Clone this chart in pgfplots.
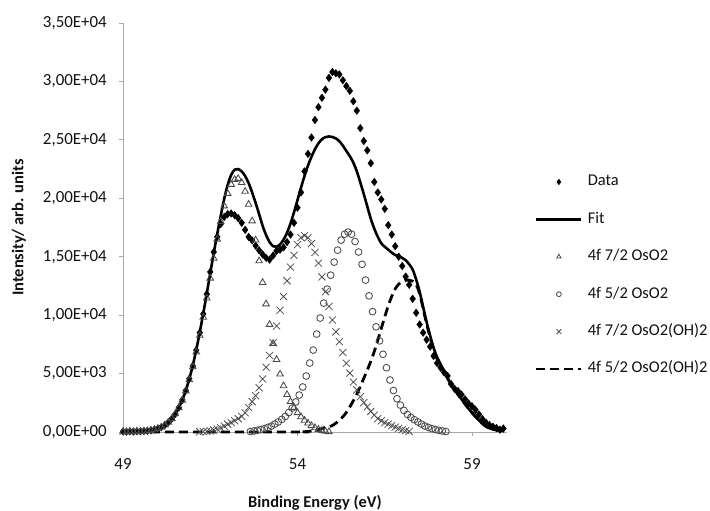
\documentclass[border=0pt]{standalone}
\usepackage{fontspec}
\setmainfont{Carlito}
\usepackage{pgfplots}
\pgfplotsset{compat=1.18}
\definecolor{axgray}{HTML}{A8A8A8}
\definecolor{mkgray}{HTML}{4A4A4A}
\definecolor{txt}{HTML}{111111}
\pgfplotsset{
  markleg/.style={legend image code/.code={\path (0bp,0bp) (45bp,0bp); \draw[##1, mark size=#1] plot coordinates {(22.5bp,0bp)};}},
  lineleg/.style={legend image code/.code={\draw[##1] (0bp,0bp) -- (45bp,0bp);}},
}
\begin{document}
\begin{tikzpicture}
\useasboundingbox (-123bp,-79bp) rectangle (587bp,432bp);
\begin{axis}[
  at={(0,0)}, anchor=south west,
  scale only axis, width=383.9bp, height=409bp,
  xmin=49, xmax=60, ymin=0, ymax=35000,
  clip=false,
  axis lines=left, axis line style={-, draw=axgray, line width=0.9bp},
  tick align=outside, major tick length=4bp, tick style={draw=axgray, line width=0.9bp},
  xtick={49,54,59}, xticklabels={49,54,59},
  ytick={0,5000,10000,15000,20000,25000,30000,35000},
  yticklabels={{0,00E+00},{5,00E+03},{1,00E+04},{1,50E+04},{2,00E+04},{2,50E+04},{3,00E+04},{3,50E+04}},
  scaled y ticks=false,
  ticklabel style={font=\fontsize{17}{20}\selectfont, text=txt},
  yticklabel style={anchor=east, inner sep=0pt, xshift=-12bp},
  xticklabel style={anchor=north, inner sep=0pt, yshift=-22bp},
  xlabel={\textbf{Binding Energy (eV)}},
  ylabel={\textbf{Intensity/ arb. units}},
  every axis x label/.style={at={(axis description cs:0.5,-0.1736)}, anchor=center, font=\fontsize{16.5}{19}\selectfont, text=txt},
  every axis y label/.style={at={(axis description cs:-0.271,0.5)}, anchor=center, rotate=90, font=\fontsize{16.5}{19}\selectfont, text=txt},
  legend cell align=left,
  legend style={at={(rel axis cs:1.0732,0.6284)}, anchor=north west, draw=none, fill=none,
    inner sep=0pt, outer sep=0pt, row sep=23.4bp, column sep=5bp,
    font=\fontsize{16.5}{19}\selectfont, text=txt,
    nodes={inner sep=0pt, text height=11bp, text depth=3bp}},
]
% Data
\addplot[only marks, mark=diamond*, mark size=3.8bp, black, markleg=2.8bp]
table[row sep=\\] {
49.0 50\\ 49.1 30\\ 49.2 60\\ 49.3 40\\ 49.4 70\\ 49.5 60\\ 49.6 90\\ 49.7 110\\ 49.8 150\\ 49.9 220\\
50.0 300\\ 50.1 420\\ 50.2 600\\ 50.3 830\\ 50.4 1150\\ 50.5 1550\\ 50.6 2100\\ 50.7 2750\\ 50.8 3550\\ 50.9 4550\\
51.0 5650\\ 51.1 7000\\ 51.2 8500\\ 51.3 10100\\ 51.4 11800\\ 51.5 13700\\ 51.6 15400\\ 51.7 16700\\ 51.8 17800\\ 51.9 18400\\
52.0 18650\\ 52.1 18700\\ 52.2 18550\\ 52.3 18300\\ 52.4 17900\\ 52.5 17300\\ 52.6 16700\\ 52.7 16400\\ 52.8 15950\\ 52.9 15550\\
53.0 15200\\ 53.1 14900\\ 53.2 14750\\ 53.3 15100\\ 53.4 15500\\ 53.5 15600\\ 53.6 15800\\ 53.7 16250\\ 53.8 16900\\ 53.9 17900\\
54.0 19200\\ 54.1 20500\\ 54.2 22300\\ 54.3 23800\\ 54.4 25200\\ 54.5 26700\\ 54.6 27800\\ 54.7 28600\\ 54.8 29300\\ 54.9 30300\\
55.0 30800\\ 55.1 30700\\ 55.2 30600\\ 55.3 30100\\ 55.4 29600\\ 55.5 29200\\ 55.6 28300\\ 55.7 27500\\ 55.8 26000\\ 55.9 24900\\
56.0 24100\\ 56.1 23000\\ 56.2 21400\\ 56.3 20500\\ 56.4 19900\\ 56.5 19100\\ 56.6 17700\\ 56.7 16900\\ 56.8 15900\\ 56.9 15000\\
57.0 14200\\ 57.1 13300\\ 57.2 12600\\ 57.3 11400\\ 57.4 10200\\ 57.5 9200\\ 57.6 8500\\ 57.7 7900\\ 57.8 7300\\ 57.9 6500\\
58.0 5900\\ 58.1 5500\\ 58.2 5100\\ 58.3 4800\\ 58.4 4100\\ 58.5 3700\\ 58.6 3500\\ 58.7 3200\\ 58.8 2800\\ 58.9 2450\\
59.0 2200\\ 59.1 1900\\ 59.2 1500\\ 59.3 1100\\ 59.4 800\\ 59.5 600\\ 59.6 450\\ 59.7 350\\ 59.8 200\\ 59.9 300\\
};
\addlegendentry{Data}
% Fit
\addplot[black, line width=2.6bp, smooth, lineleg]
table[row sep=\\] {
49.0 0\\ 49.1 5\\ 49.2 8\\ 49.3 13\\ 49.4 21\\ 49.5 34\\ 49.6 53\\ 49.7 83\\ 49.8 127\\ 49.9 190\\
50.0 283\\ 50.1 410\\ 50.2 590\\ 50.3 830\\ 50.4 1140\\ 50.5 1560\\ 50.6 2090\\ 50.7 2750\\ 50.8 3560\\ 50.9 4550\\
51.0 5700\\ 51.1 7050\\ 51.2 8550\\ 51.3 10150\\ 51.4 11850\\ 51.5 13600\\ 51.6 15300\\ 51.7 16950\\ 51.8 18500\\ 51.9 19950\\
52.0 21150\\ 52.1 22000\\ 52.2 22450\\ 52.3 22500\\ 52.4 22300\\ 52.5 21900\\ 52.6 21300\\ 52.7 20500\\ 52.8 19600\\ 52.9 18650\\
53.0 17650\\ 53.1 16850\\ 53.2 16250\\ 53.3 15900\\ 53.4 15850\\ 53.5 16050\\ 53.6 16450\\ 53.7 17050\\ 53.8 17850\\ 53.9 18800\\
54.0 19850\\ 54.1 20900\\ 54.2 21900\\ 54.3 22800\\ 54.4 23550\\ 54.5 24200\\ 54.6 24700\\ 54.7 25050\\ 54.8 25230\\ 54.9 25290\\
55.0 25250\\ 55.1 25120\\ 55.2 24880\\ 55.3 24500\\ 55.4 24050\\ 55.5 23600\\ 55.6 23050\\ 55.7 22300\\ 55.8 21350\\ 55.9 20350\\
56.0 19300\\ 56.1 18250\\ 56.2 17400\\ 56.3 16700\\ 56.4 16150\\ 56.5 15850\\ 56.6 15600\\ 56.7 15350\\ 56.8 15150\\ 56.9 15050\\
57.0 14900\\ 57.1 14700\\ 57.2 14350\\ 57.3 13900\\ 57.4 13050\\ 57.5 12000\\ 57.6 10700\\ 57.7 9400\\ 57.8 8250\\ 57.9 7200\\
58.0 6400\\ 58.1 5800\\ 58.2 5200\\ 58.3 4600\\ 58.4 4100\\ 58.5 3650\\ 58.6 3200\\ 58.7 2800\\ 58.8 2400\\ 58.9 2000\\
59.0 1650\\ 59.1 1320\\ 59.2 1000\\ 59.3 720\\ 59.4 480\\ 59.5 320\\ 59.6 230\\ 59.7 170\\ 59.8 120\\ 59.9 80\\
};
\addlegendentry{Fit}
% 4f 7/2 OsO2
\addplot[only marks, mark=triangle, mark size=3.8bp, mkgray, mark options={line width=0.85bp}, markleg=2.5bp]
table[row sep=\\] {
49.0 3\\ 49.1 5\\ 49.2 8\\ 49.3 13\\ 49.4 21\\ 49.5 34\\ 49.6 53\\ 49.7 83\\ 49.8 127\\ 49.9 190\\
50.0 283\\ 50.1 410\\ 50.2 587\\ 50.3 825\\ 50.4 1137\\ 50.5 1548\\ 50.6 2068\\ 50.7 2713\\ 50.8 3510\\ 50.9 4458\\
51.0 5570\\ 51.1 6843\\ 51.2 8265\\ 51.3 9817\\ 51.4 11460\\ 51.5 13160\\ 51.6 14860\\ 51.7 16500\\ 51.8 18010\\ 51.9 19340\\
52.0 20410\\ 52.1 21180\\ 52.2 21610\\ 52.3 21680\\ 52.4 21340\\ 52.5 20590\\ 52.6 19480\\ 52.7 18060\\ 52.8 16420\\ 52.9 14640\\
53.0 12790\\ 53.1 10960\\ 53.2 9200\\ 53.3 7575\\ 53.4 6200\\ 53.5 4950\\ 53.6 3950\\ 53.7 3200\\ 53.8 2600\\ 53.9 2100\\
54.0 1650\\ 54.1 1300\\ 54.2 1000\\ 54.3 760\\ 54.4 540\\ 54.5 360\\ 54.6 220\\ 54.7 120\\ 54.8 55\\ 54.9 20\\
};
\addlegendentry{4f 7/2 OsO2}
% 4f 5/2 OsO2
\addplot[only marks, mark=o, mark size=3.4bp, mkgray, mark options={line width=0.85bp}, markleg=2.4bp]
table[row sep=\\] {
52.65 40\\ 52.75 90\\ 52.85 140\\ 52.95 210\\ 53.05 290\\ 53.15 390\\ 53.25 510\\ 53.35 680\\ 53.45 860\\ 53.55 1080\\
53.65 1330\\ 53.75 1660\\ 53.85 2050\\ 53.95 2570\\ 54.05 3160\\ 54.15 3850\\ 54.25 4790\\ 54.35 5900\\ 54.45 7010\\ 54.55 8380\\
54.65 9750\\ 54.75 11030\\ 54.85 12230\\ 54.95 13420\\ 55.05 14540\\ 55.15 15560\\ 55.25 16420\\ 55.35 16930\\ 55.45 17100\\ 55.55 16930\\
55.65 16300\\ 55.75 15400\\ 55.85 14350\\ 55.95 13000\\ 56.05 11650\\ 56.15 10300\\ 56.25 9000\\ 56.35 7800\\ 56.45 6650\\ 56.55 5500\\
56.65 4450\\ 56.75 3550\\ 56.85 2850\\ 56.95 2300\\ 57.05 1850\\ 57.15 1500\\ 57.25 1250\\ 57.35 1050\\ 57.45 860\\ 57.55 680\\
57.65 510\\ 57.75 390\\ 57.85 290\\ 57.95 210\\ 58.05 140\\ 58.15 90\\ 58.25 40\\
};
\addlegendentry{4f 5/2 OsO2}
% 4f 7/2 OsO2(OH)2
\addplot[only marks, mark=x, mark size=5bp, mkgray, mark options={line width=0.75bp}, markleg=3.4bp]
table[row sep=\\] {
51.2 20\\ 51.3 30\\ 51.4 50\\ 51.5 100\\ 51.6 170\\ 51.7 250\\ 51.8 350\\ 51.9 500\\ 52.0 670\\ 52.1 810\\
52.2 960\\ 52.3 1140\\ 52.4 1340\\ 52.5 1650\\ 52.6 2100\\ 52.7 2600\\ 52.8 3110\\ 52.9 3780\\ 53.0 4540\\ 53.1 5540\\
53.2 6550\\ 53.3 7640\\ 53.4 9070\\ 53.5 10420\\ 53.6 11590\\ 53.7 12940\\ 53.8 14110\\ 53.9 15120\\ 54.0 16040\\ 54.1 16630\\
54.2 16800\\ 54.3 16630\\ 54.4 16130\\ 54.5 15370\\ 54.6 14450\\ 54.7 13270\\ 54.8 12010\\ 54.9 10750\\ 55.0 9580\\ 55.1 8570\\
55.2 7730\\ 55.3 6800\\ 55.4 5880\\ 55.5 5040\\ 55.6 4280\\ 55.7 3610\\ 55.8 3020\\ 55.9 2520\\ 56.0 2150\\ 56.1 1760\\
56.2 1440\\ 56.3 1140\\ 56.4 960\\ 56.5 810\\ 56.6 670\\ 56.7 540\\ 56.8 420\\ 56.9 300\\ 57.0 200\\ 57.1 120\\ 57.2 50\\
};
\addlegendentry{4f 7/2 OsO2(OH)2}
% 4f 5/2 OsO2(OH)2
\addplot[black, line width=2.8bp, dash pattern=on 9bp off 5bp, smooth, lineleg]
table[row sep=\\] {
49.0 0\\ 54.0 0\\ 54.1 10\\ 54.2 25\\ 54.3 50\\ 54.4 90\\ 54.5 140\\ 54.6 210\\ 54.7 300\\ 54.8 400\\ 54.9 430\\
55.0 560\\ 55.1 760\\ 55.2 1000\\ 55.3 1300\\ 55.4 1680\\ 55.5 2150\\ 55.6 2680\\ 55.7 3250\\ 55.8 3900\\ 55.9 4600\\
56.0 5300\\ 56.1 6050\\ 56.2 6900\\ 56.3 7850\\ 56.4 8850\\ 56.5 9850\\ 56.6 10800\\ 56.7 11600\\ 56.8 12250\\ 56.9 12650\\
57.0 12880\\ 57.1 12980\\ 57.2 13000\\ 57.3 12900\\ 57.4 12600\\ 57.5 11850\\ 57.6 10550\\ 57.7 9250\\ 57.8 8100\\ 57.9 7050\\
58.0 6250\\ 58.1 5680\\ 58.2 5130\\ 58.3 4580\\ 58.4 4100\\ 58.5 3650\\ 58.6 3200\\ 58.7 2800\\ 58.8 2400\\ 58.9 2000\\
59.0 1650\\ 59.1 1320\\ 59.2 1000\\ 59.3 720\\ 59.4 480\\ 59.5 320\\ 59.6 230\\ 59.7 170\\ 59.8 120\\ 59.9 80\\
};
\addlegendentry{4f 5/2 OsO2(OH)2}
\end{axis}
\end{tikzpicture}
\end{document}
